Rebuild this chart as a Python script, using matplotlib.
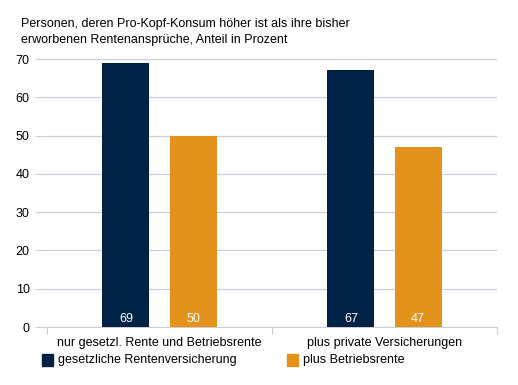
import matplotlib
matplotlib.use("Agg")
import matplotlib.pyplot as plt
from matplotlib.patches import Rectangle

categories = ["nur gesetzl. Rente und Betriebsrente", "plus private Versicherungen"]
series_names = ["gesetzliche Rentenversicherung", "plus Betriebsrente"]
values_grv = [69, 67]
values_brente = [50, 47]
yticks = [0, 10, 20, 30, 40, 50, 60, 70]
title = "Personen, deren Pro-Kopf-Konsum höher ist als ihre bisher\nerworbenen Rentenansprüche, Anteil in Prozent"

colors = ["#012245", "#E3931B"]
grid_c = "#C9CED8"
fs = 9.0

plt.rcParams['font.family'] = ['Liberation Sans', 'DejaVu Sans']

fig = plt.figure(figsize=(5.18, 3.85), dpi=100)
ax = fig.add_axes([47/518, 1-327/385, 450/518, 268/385])

x = [0.5, 1.5]
w = 0.209
off = 0.149
for i, (vals, c) in enumerate(zip([values_grv, values_brente], colors)):
    pos = [xi + (-off if i == 0 else off) for xi in x]
    ax.bar(pos, vals, width=w, color=c, zorder=3)
    for p, v in zip(pos, vals):
        ax.text(p, 2.1, str(v), ha='center', va='center', color='white', fontsize=fs, zorder=4)

ax.set_xlim(0, 2)
ax.set_ylim(0, 70)
ax.set_yticks(yticks)
ax.set_yticklabels([str(t) for t in yticks], fontsize=fs)
ax.grid(axis='y', color=grid_c, linewidth=0.9, zorder=0)
ax.tick_params(axis='y', length=9, color=grid_c, pad=3.5)
ax.set_xticks([0, 1, 2])
ax.set_xticklabels([])
ax.set_xticks(x, minor=True)
ax.set_xticklabels(categories, minor=True, fontsize=fs)
ax.tick_params(axis='x', which='minor', length=0, pad=7)
ax.tick_params(axis='x', which='major', length=5, color=grid_c)
for s in ['top', 'right', 'left']:
    ax.spines[s].set_visible(False)
ax.spines['bottom'].set_color(grid_c)

fig.text(21/518, 1-18/385, title, fontsize=fs, va='top', ha='left', linespacing=1.5)

# legend
for i, (name, c) in enumerate(zip(series_names, colors)):
    lx = [42, 287][i]
    fig.patches.append(Rectangle((lx/518, 1-366/385), 11/518, 12/385, transform=fig.transFigure, color=c))
    fig.text((lx+16)/518, 1-359.5/385, name, fontsize=fs, va='center', ha='left')

fig.savefig("out.png", dpi=100)
